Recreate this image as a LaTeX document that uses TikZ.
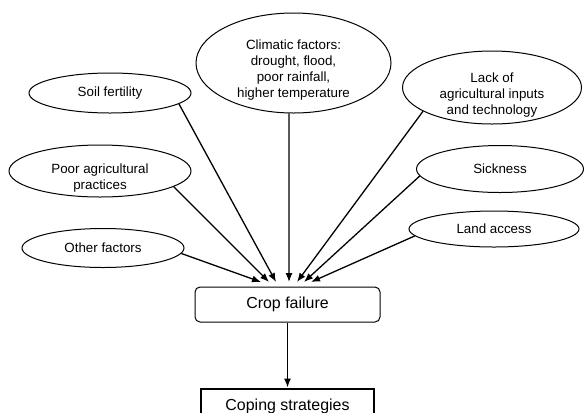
\documentclass[tikz,border=0pt]{standalone}
\usepackage{fontspec}
\setmainfont{Liberation Sans}
\usepackage{tikz}
\usetikzlibrary{positioning}
\usetikzlibrary{shapes.geometric}
\usetikzlibrary{arrows.meta}
\newcommand{\factorlines}[2]{\raisebox{#1}[0pt][0pt]{\begin{tabular}[t]{@{}c@{}}#2\end{tabular}}}
\tikzset{
    cause diagram/.style={
            x=1bp,y=-1bp,
            line width=1bp,
            factor/.style={draw,ellipse,inner sep=0pt,font=\fontsize{13.4}{16}\selectfont},
            outcome/.style={draw,rectangle,inner sep=0pt,minimum height=35bp,font=\fontsize{16}{19}\selectfont},
            arrow/.style={-{Latex[length=9bp,width=7bp]},line width=1.3bp}
        }
    }

\begin{document}
\begin{tikzpicture}[cause diagram]
        \useasboundingbox (0,0) rectangle (584,412);
        \node (CLF) [factor, minimum width=195bp, minimum height=100bp] at (293.5,63) {\factorlines{13.35bp}{Climatic factors:\\ drought, flood,\\ poor rainfall,\\ higher temperature}};
        \node (SF) [factor, minimum width=162bp, minimum height=40bp] at (110,93) {Soil fertility};
        \node (PAP) [factor, minimum width=182bp, minimum height=52bp] at (100,171) {\factorlines{-2.65bp}{Poor agricultural\\ practices}};
        \node (OF) [factor, minimum width=162bp, minimum height=39bp] at (103,248) {Other factors};
        \node (LAI) [factor, minimum width=179bp, minimum height=73bp] at (492,87.5) {\factorlines{5.35bp}{Lack of\\ agricultural inputs\\ and technology}};
        \node (SK) [factor, minimum width=167bp, minimum height=47bp] at (500,169) {Sickness};
        \node (LA) [factor, minimum width=170bp, minimum height=36bp] at (494,229) {Land access};
        \node (CF) [outcome, rounded corners=5bp, minimum width=185bp] at (287.5,304.5) {Crop failure};
        \node (CS) [outcome, line width=2.2bp, minimum width=173bp, below=65bp of CF] {Coping strategies};
        \draw [arrow] (OF.-4) -- ([xshift=-26.5bp,yshift=4.5bp]CF.north);
        \draw [arrow] (PAP.-12) -- ([xshift=-18.5bp,yshift=4.5bp]CF.north);
        \draw [arrow] (SF.-9) -- ([xshift=-11.5bp,yshift=4.5bp]CF.north);
        \draw [arrow] (CLF.-95) -- ([xshift=1.5bp,yshift=4.5bp]CF.north);
        \draw [arrow] (LAI.-161) -- ([xshift=9.5bp,yshift=4.5bp]CF.north);
        \draw [arrow] (SK.185) -- ([xshift=16.5bp,yshift=4.5bp]CF.north);
        \draw [arrow] (LA.185) -- ([xshift=23.5bp,yshift=4.5bp]CF.north);
        \draw [arrow] (CF) -- (CS);
    \end{tikzpicture}
\end{document}
